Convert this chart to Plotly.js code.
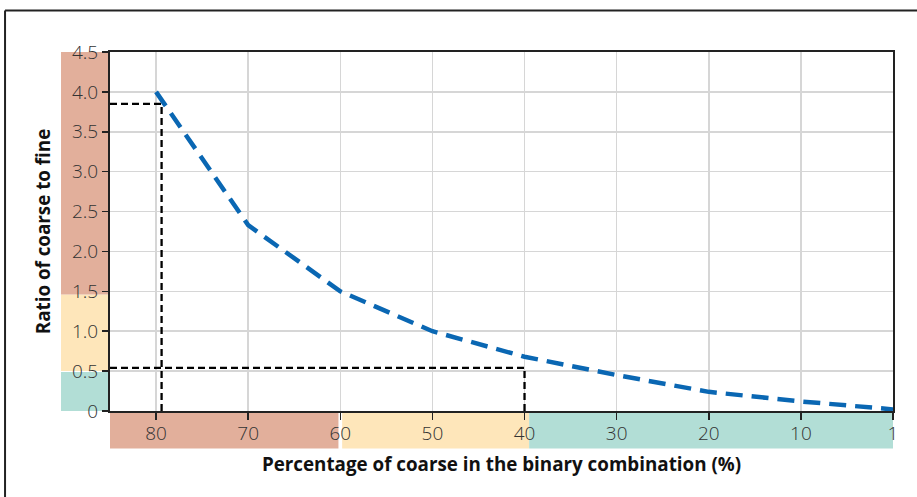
<!DOCTYPE html>
<html>
<head>
<meta charset="utf-8">
<script src="https://cdn.plot.ly/plotly-3.0.1.min.js"></script>
<style>
  html, body { margin: 0; padding: 0; background: #fff; }
  #chart { width: 917px; height: 497px; }
</style>
</head>
<body>
<div id="chart"></div>
<script>
// ---- data ----
const categories = ['80', '70', '60', '50', '40', '30', '20', '10', '1'];
const ratio = [4.0, 2.33, 1.5, 1.0, 0.68, 0.45, 0.24, 0.12, 0.02];
const yTickVals = [0, 0.5, 1, 1.5, 2, 2.5, 3, 3.5, 4, 4.5];
const yTickText = ['0', '0.5', '1.0', '1.5', '2.0', '2.5', '3.0', '3.5', '4.0', '4.5'];
// guide lines: [category position, ratio]
const guideX = [0.06, 4];
const guideY = [3.85, 0.54];
// coloured zones: ratio bands on y, category bands on x
const yZoneFrom = [0, 0.5, 1.46];
const yZoneTo = [0.49, 1.46, 4.5];
const xZoneFrom = [-0.5, 2.02, 4.05];
const xZoneTo = [1.98, 4.05, 8];
const zoneColors = ['#B2DED6', '#FEE6BA', '#E2AF9B'];
const xZoneColors = ['#E2AF9B', '#FEE6BA', '#B2DED6'];

// ---- geometry ----
const W = 917, H = 497;
const L = 110, R = 917 - 893.3, T = 51.5, B = 497 - 410.7;
const pw = W - L - R, ph = H - T - B;
const px = v => (v - L) / pw;          // pixel -> paper x
const py = v => (H - B - v) / ph;      // pixel -> paper y

const shapes = [];
// y bands
for (let i = 0; i < yZoneFrom.length; i++) {
  shapes.push({type: 'rect', layer: 'below', xref: 'paper', yref: 'y',
    x0: px(61), x1: 0, y0: yZoneFrom[i], y1: yZoneTo[i],
    fillcolor: zoneColors[i], line: {width: 0}});
}
// x bands
for (let i = 0; i < xZoneFrom.length; i++) {
  shapes.push({type: 'rect', layer: 'below', xref: 'x', yref: 'paper',
    x0: xZoneFrom[i], x1: xZoneTo[i], y0: py(448.3), y1: 0,
    fillcolor: xZoneColors[i], line: {width: 0}});
}
// guide lines
const guideLine = {color: '#000', width: 2.3, dash: '7px,4px'};
for (let i = 0; i < guideX.length; i++) {
  shapes.push({type: 'line', xref: 'x', yref: 'y', x0: -0.5, x1: guideX[i], y0: guideY[i], y1: guideY[i], line: guideLine});
  shapes.push({type: 'line', xref: 'x', yref: 'y', x0: guideX[i], x1: guideX[i], y0: 0, y1: guideY[i], line: guideLine});
}
// outer frame (left and top)
shapes.push({type: 'line', xref: 'paper', yref: 'paper', x0: px(5), x1: px(5), y0: py(10), y1: py(500), line: {color: '#222', width: 2}});
shapes.push({type: 'line', xref: 'paper', yref: 'paper', x0: px(5), x1: px(920), y0: py(10), y1: py(10), line: {color: '#222', width: 2}});

const trace = {
  type: 'scatter', mode: 'lines',
  x: categories, y: ratio,
  line: {color: '#0A67B3', width: 4.5, dash: '17px,9px'},
  hoverinfo: 'skip'
};

const tickFont = {family: 'Open Sans, Noto Sans, sans-serif', size: 19, color: '#333', weight: 300};
const titleFont = {family: 'Open Sans, Noto Sans, sans-serif', size: 18.8, color: '#111', weight: 'bold'};
const layout = {
  width: W, height: H,
  margin: {l: L, r: R, t: T, b: B, pad: 0},
  paper_bgcolor: '#fff', plot_bgcolor: '#fff',
  showlegend: false,
  font: tickFont,
  xaxis: {
    type: 'category', range: [-0.5, 8],
    showgrid: true, gridcolor: '#d6d6d6', gridwidth: 1.5,
    showline: true, linecolor: '#222', linewidth: 2, mirror: true,
    ticks: 'outside', ticklen: 7, tickcolor: '#222', tickwidth: 1.5,
    ticklabelstandoff: -3,
    tickfont: tickFont, zeroline: false, automargin: false,
    title: {text: 'Percentage of coarse in the binary combination (%)', standoff: 13, font: titleFont}
  },
  yaxis: {
    range: [0, 4.5], tickvals: yTickVals, ticktext: yTickText,
    showgrid: true, gridcolor: '#d6d6d6', gridwidth: 1.5,
    showline: true, linecolor: '#222', linewidth: 2, mirror: true,
    ticks: 'outside', ticklen: 6, tickcolor: '#222', tickwidth: 1.5,
    tickfont: tickFont, zeroline: false, automargin: false,
    title: {text: 'Ratio of coarse to fine', standoff: 16, font: titleFont}
  },
  shapes: shapes
};

Plotly.newPlot('chart', [trace], layout, {displayModeBar: false, staticPlot: true});
</script>
</body>
</html>
